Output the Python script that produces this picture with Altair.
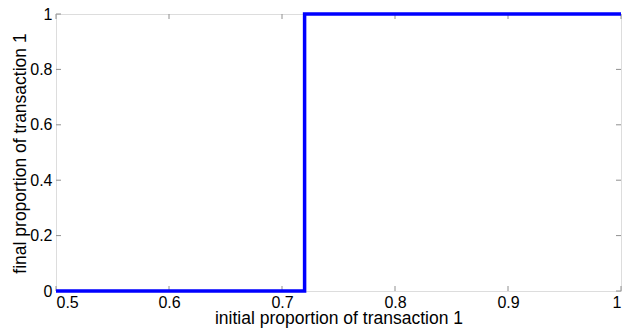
import altair as alt
import pandas as pd

# data
x_vals = [0.5, 0.72, 1.0]
y_vals = [0.0, 1.0, 1.0]
x_ticks = [0.5, 0.6, 0.7, 0.8, 0.9, 1.0]
y_ticks = [0.0, 0.2, 0.4, 0.6, 0.8, 1.0]

W, H = 565, 277
TL = 5

df = pd.DataFrame({"x": x_vals, "y": y_vals})
xt = pd.DataFrame({"t": x_ticks})
yt = pd.DataFrame({"t": y_ticks})

xs = alt.Scale(domain=[0.5, 1.0], nice=False, zero=False)
ys = alt.Scale(domain=[0.0, 1.0], nice=False, zero=False)

FONT = "Liberation Sans"

line = alt.Chart(df).mark_line(
    color="#0000FF", strokeWidth=3.5, interpolate="step-after", clip=False
).encode(
    x=alt.X("x:Q", scale=xs, axis=alt.Axis(
        values=x_ticks, format="~g", title="initial proportion of transaction 1",
        grid=False, domain=False, ticks=False, labelPadding=3,
        labelFont=FONT, labelFontSize=16, labelColor="#000",
        titleFont=FONT, titleFontSize=17.5, titleFontWeight="normal", titleColor="#000",
        titleBaseline="alphabetic", titleY=32)),
    y=alt.Y("y:Q", scale=ys, axis=alt.Axis(
        values=y_ticks, format="~g", title="final proportion of transaction 1",
        grid=False, domain=False, ticks=False, labelPadding=4,
        labelFont=FONT, labelFontSize=16, labelColor="#000",
        titleFont=FONT, titleFontSize=17.5, titleFontWeight="normal", titleColor="#000",
        titleBaseline="alphabetic", titleX=-31, titleY=139)),
)

tick_style = dict(color="#909090", strokeWidth=1)
xb = alt.Chart(xt).mark_rule(**tick_style).encode(
    x=alt.X("t:Q", scale=xs), y=alt.value(H), y2=alt.value(H - TL))
xtop = alt.Chart(xt).mark_rule(**tick_style).encode(
    x=alt.X("t:Q", scale=xs), y=alt.value(0), y2=alt.value(TL))
yl = alt.Chart(yt).mark_rule(**tick_style).encode(
    y=alt.Y("t:Q", scale=ys), x=alt.value(0), x2=alt.value(TL))
yr = alt.Chart(yt).mark_rule(**tick_style).encode(
    y=alt.Y("t:Q", scale=ys), x=alt.value(W), x2=alt.value(W - TL))

chart = alt.layer(xb, xtop, yl, yr, line).properties(
    width=W, height=H,
    autosize=alt.AutoSizeParams(type="none"),
    padding={"left": 56, "top": 14, "right": 3, "bottom": 39},
).configure_view(stroke="#909090", strokeWidth=1).configure(background="white")

chart.save("out.html", embed_options={"renderer": "svg", "actions": False})
